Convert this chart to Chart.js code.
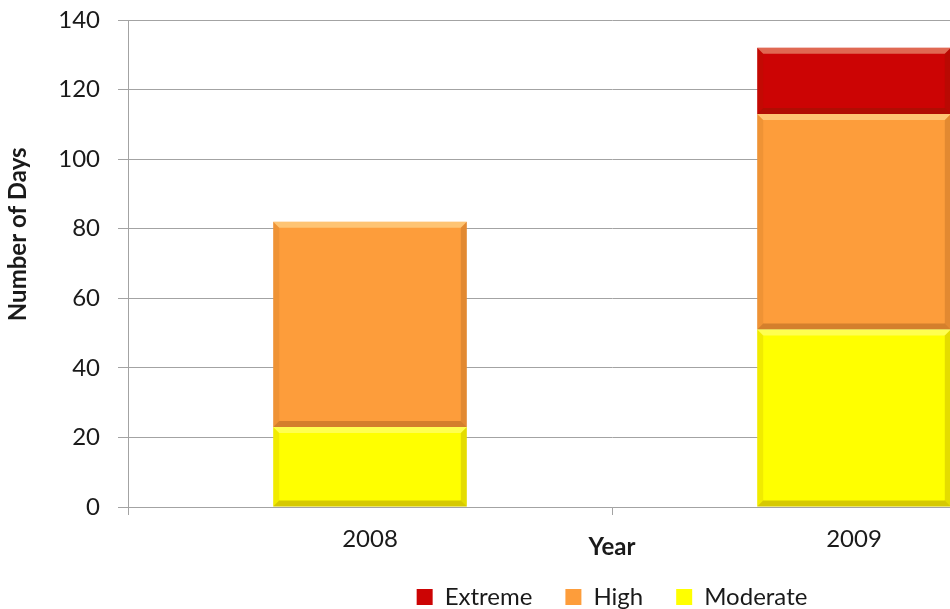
<!DOCTYPE html>
<html>
<head>
<meta charset="utf-8">
<script src="https://cdn.jsdelivr.net/npm/chart.js@4/dist/chart.umd.min.js"></script>
<style>
  html, body { margin: 0; padding: 0; width: 950px; height: 609px; overflow: hidden; background: #fff; }
  #wrap { position: absolute; left: 0; top: 0; }
</style>
</head>
<body>
<div id="wrap"><canvas id="c" width="1110" height="619"></canvas></div>
<script>
// Days per year in each heat category
const years = ['2008', '2009'];
const moderateDays = [23, 51];
const highDays = [59, 62];
const extremeDays = [0, 19];
const yTickValues = [0, 20, 40, 60, 80, 100, 120, 140];

const FONT = 'Lato, "Open Sans", sans-serif';
const FONT_SIZE = 24;
const GRID = '#a3a3a3';
const TEXT = '#1a1a1a';

// Bevelled edges on every bar segment
const bevelPlugin = {
  id: 'bevel',
  afterDatasetsDraw(chart) {
    const ctx = chart.ctx;
    chart.data.datasets.forEach((ds, i) => {
      const meta = chart.getDatasetMeta(i);
      meta.data.forEach(bar => {
        const p = bar.getProps(['x', 'y', 'base', 'width'], true);
        const l = p.x - p.width / 2, r = p.x + p.width / 2;
        const t = Math.min(p.y, p.base), b = Math.max(p.y, p.base);
        if (b - t < 2) return;
        const e = Math.min(6, (b - t) / 2);
        ctx.save();
        const poly = (pts, fill) => {
          ctx.beginPath();
          ctx.moveTo(pts[0][0], pts[0][1]);
          for (let k = 1; k < pts.length; k++) ctx.lineTo(pts[k][0], pts[k][1]);
          ctx.closePath();
          ctx.fillStyle = fill;
          ctx.fill();
        };
        poly([[l, t], [r, t], [r - e, t + e], [l + e, t + e]], 'rgba(255,255,200,0.40)');
        poly([[l, b], [r, b], [r - e, b - e], [l + e, b - e]], 'rgba(90,40,0,0.25)');
        poly([[l, t], [l + e, t + e], [l + e, b - e], [l, b]], 'rgba(120,60,0,0.10)');
        poly([[r, t], [r - e, t + e], [r - e, b - e], [r, b]], 'rgba(90,40,0,0.16)');
        ctx.restore();
      });
    });
  }
};

// Axis titles placed alongside the plot area
const axisTitlePlugin = {
  id: 'axisTitles',
  afterDraw(chart) {
    const ctx = chart.ctx;
    const a = chart.chartArea;
    ctx.save();
    ctx.fillStyle = TEXT;
    ctx.font = 'bold ' + FONT_SIZE + 'px ' + FONT;
    ctx.textAlign = 'center';
    ctx.textBaseline = 'middle';
    ctx.fillText('Year', (a.left + a.right) / 2, a.bottom + 40);
    ctx.translate(18, a.top + (a.bottom - a.top) * 0.44);
    ctx.rotate(-Math.PI / 2);
    ctx.fillText('Number of Days', 0, 0);
    ctx.restore();
  }
};

new Chart(document.getElementById('c'), {
  type: 'bar',
  data: {
    labels: years,
    datasets: [
      { label: 'Moderate', data: moderateDays, backgroundColor: '#ffff00', borderWidth: 0 },
      { label: 'High', data: highDays, backgroundColor: '#fd9d3b', borderWidth: 0 },
      { label: 'Extreme', data: extremeDays, backgroundColor: '#cc0404', borderWidth: 0 }
    ]
  },
  options: {
    responsive: false,
    animation: false,
    events: [],
    layout: { padding: { top: 20, right: 14, left: 0, bottom: 0 } },
    datasets: { bar: { categoryPercentage: 1, barPercentage: 0.4 } },
    scales: {
      x: {
        stacked: true,
        afterFit(s) { s.height = 45; },
        grid: { drawOnChartArea: false, tickLength: 8, color: GRID, offset: true },
        border: { color: GRID },
        ticks: { color: TEXT, font: { family: FONT, size: FONT_SIZE }, padding: 10 }
      },
      y: {
        stacked: true,
        min: 0,
        max: 140,
        afterFit(s) { s.width = 128; s.paddingTop = 0; s.paddingBottom = 0; },
        afterBuildTicks(s) { s.ticks = yTickValues.map(v => ({ value: v })); },
        grid: { color: GRID, tickLength: 10 },
        border: { color: GRID },
        ticks: { color: TEXT, font: { family: FONT, size: FONT_SIZE }, padding: 18 }
      }
    },
    plugins: {
      tooltip: { enabled: false },
      legend: {
        position: 'bottom',
        fullSize: false,
        reverse: true,
        labels: {
          color: TEXT,
          font: { family: FONT, size: FONT_SIZE },
          boxWidth: 16,
          boxHeight: 16,
          padding: 33
        }
      }
    }
  },
  plugins: [bevelPlugin, axisTitlePlugin]
});
</script>
</body>
</html>
